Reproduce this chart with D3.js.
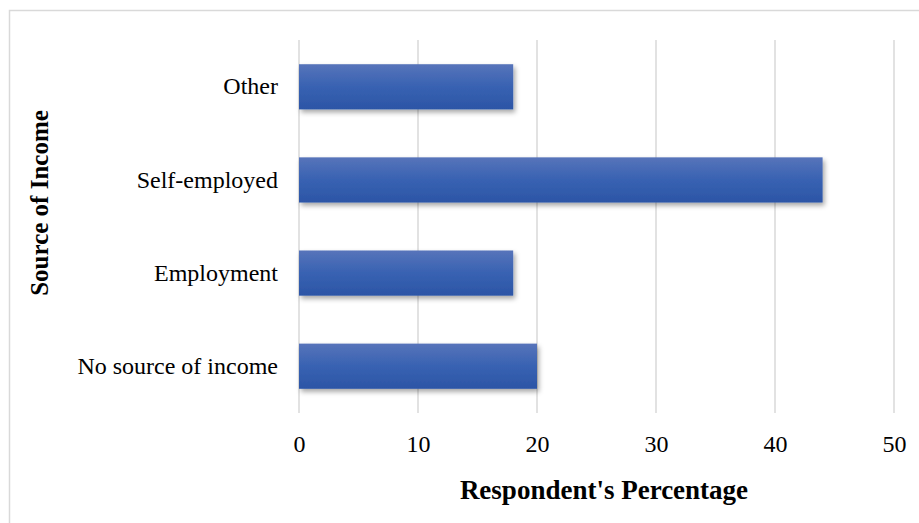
<!DOCTYPE html>
<html>
<head>
<meta charset="utf-8">
<script src="https://cdn.jsdelivr.net/npm/d3@7"></script>
<style>
  body { margin: 0; background: #fff; }
  svg text { font-family: "Liberation Serif", "Times New Roman", serif; fill: #000; }
</style>
</head>
<body>
<div id="chart"></div>
<script>
const categories = ["Other", "Self-employed", "Employment", "No source of income"];
const values = [18, 44, 18, 20];
const xTicks = [0, 10, 20, 30, 40, 50];
const xTitle = "Respondent's Percentage";
const yTitle = "Source of Income";

const width = 919, height = 523;
const margin = { top: 40, right: 25, bottom: 110, left: 299 };

const svg = d3.select("#chart")
    .append("svg")
    .attr("width", width)
    .attr("height", height);

// outer chart border
svg.append("rect")
    .attr("x", 9.5).attr("y", 10.5)
    .attr("width", 940).attr("height", 600)
    .attr("fill", "none")
    .attr("stroke", "#d9d9d9")
    .attr("stroke-width", 1.5);

const defs = svg.append("defs");
const grad = defs.append("linearGradient")
    .attr("id", "barGrad")
    .attr("x1", 0).attr("y1", 0).attr("x2", 0).attr("y2", 1);
grad.append("stop").attr("offset", "0%").attr("stop-color", "#5774ba");
grad.append("stop").attr("offset", "50%").attr("stop-color", "#3862b2");
grad.append("stop").attr("offset", "100%").attr("stop-color", "#2c55a6");

const shadow = defs.append("filter")
    .attr("id", "shadow")
    .attr("x", "-5%").attr("y", "-20%")
    .attr("width", "115%").attr("height", "160%");
shadow.append("feDropShadow")
    .attr("dx", 2).attr("dy", 3)
    .attr("stdDeviation", 2.5)
    .attr("flood-color", "#000")
    .attr("flood-opacity", 0.35);

const g = svg.append("g")
    .attr("transform", `translate(${margin.left},${margin.top})`);

const innerW = 894 - margin.left;
const innerH = 413 - margin.top;

const x = d3.scaleLinear()
    .domain([0, 50])
    .range([0, innerW]);

const y = d3.scaleBand()
    .domain(categories)
    .range([0, innerH])
    .paddingInner(0.515)
    .paddingOuter(0.26);

// gridlines
g.selectAll(".grid")
    .data(xTicks)
    .enter()
    .append("line")
    .attr("x1", d => x(d)).attr("x2", d => x(d))
    .attr("y1", 0).attr("y2", innerH)
    .attr("stroke", "#d9d9d9")
    .attr("stroke-width", 1.5);

// bars
g.selectAll(".bar")
    .data(categories)
    .enter()
    .append("rect")
    .attr("x", x(0))
    .attr("y", d => y(d))
    .attr("width", (d, i) => x(values[i]) - x(0))
    .attr("height", y.bandwidth())
    .attr("fill", "url(#barGrad)")
    .attr("filter", "url(#shadow)");

// x axis labels
const xAxis = g.append("g")
    .attr("transform", `translate(0,${innerH})`)
    .call(d3.axisBottom(x).tickValues(xTicks).tickSize(0).tickPadding(22));
xAxis.select(".domain").remove();
xAxis.selectAll("text")
    .style("font-size", "24px")
    .style("font-family", "'Liberation Serif', serif");

// y axis labels
const yAxis = g.append("g")
    .call(d3.axisLeft(y).tickSize(0).tickPadding(21));
yAxis.select(".domain").remove();
yAxis.selectAll("text")
    .style("font-size", "24px")
    .style("font-family", "'Liberation Serif', serif");

// axis titles
svg.append("text")
    .attr("x", 604)
    .attr("y", 499)
    .attr("text-anchor", "middle")
    .style("font-size", "27px")
    .style("font-weight", "bold")
    .text(xTitle);

svg.append("text")
    .attr("transform", "translate(48,203) rotate(-90)")
    .attr("text-anchor", "middle")
    .style("font-size", "25px")
    .style("font-weight", "bold")
    .text(yTitle);
</script>
</body>
</html>
